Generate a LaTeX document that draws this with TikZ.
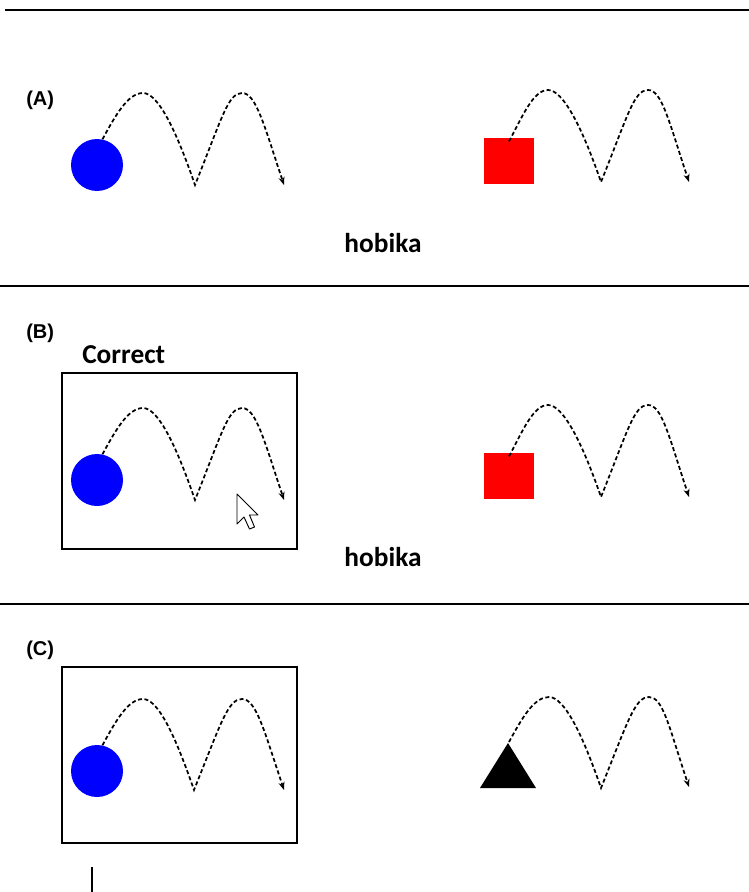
\documentclass[tikz,border=0pt]{standalone}
\usepackage{fontspec}
\setmainfont{Liberation Sans}
\newfontfamily\calibri{Carlito}
\usepackage{xcolor}
\usetikzlibrary{arrows.meta, positioning}
\definecolor{ballblue}{RGB}{0, 0, 255}
\definecolor{blockred}{RGB}{255, 0, 0}

\begin{document}
\begin{tikzpicture}[x=0.75pt, y=-0.75pt,
    divider/.style={line width=1.6pt},
    frame/.style={draw, line width=1.3pt, minimum width=176pt,
                  minimum height=132pt, inner sep=0pt},
    panel/.style={font=\bfseries\fontsize{15}{18}\selectfont, anchor=west, inner sep=0pt},
    word/.style={font=\calibri\bfseries\fontsize{20.5}{24}\selectfont, inner sep=0pt},
    ball/.style={circle, fill=ballblue, minimum size=39pt, inner sep=0pt},
    block/.style={rectangle, fill=blockred, minimum width=37pt,
                  minimum height=35pt, inner sep=0pt},
    hop/.style={dash pattern=on 3pt off 1.9pt, line width=1.3pt,
                -{Stealth[length=6pt, width=4.5pt]}},
    pointer/.style={fill=white, draw, line width=0.7pt, line join=round}
]

\useasboundingbox (0,0) rectangle (749,892);

%% Divider lines
\draw[divider] (5,10)  -- (749,10);
\draw[divider] (0,286) -- (749,286);
\draw[divider] (0,604) -- (749,604);

%% ── Panel (A) ──────────────────────────────────────────────────
\node[panel] (labA) at (26,100) {(A)};
\node[ball]  (ballA)  at (97,165)  {};
\node[block] (blockA) at (509,161) {};
\coordinate (endA1) at (284,185);
\coordinate (endA2) at (689,182);
\draw[hop] (ballA.78) .. controls +(13,-24) and +(-15,0) .. (143,93)
                      .. controls +(15,0) and +(-19,-55) .. (195,185)
                      .. controls +(27,-67) and +(-14,0) .. (242,93)
                      .. controls +(14,0) and +(-20,-60) .. (endA1);
\draw[hop] ([yshift=-3pt]blockA.north) .. controls +(13,-24) and +(-15,0) .. (548,90)
                      .. controls +(15,0) and +(-19,-55) .. (601,182)
                      .. controls +(27,-67) and +(-14,0) .. (648,90)
                      .. controls +(14,0) and +(-20,-60) .. (endA2);
\node[word] (wordA) at (383,243) {hobika};

%% ── Panel (B) ──────────────────────────────────────────────────
\node[panel] (labB) at (26,333) {(B)};
\node[word, anchor=base west] (correct) at (82,363) {Correct};
\node[frame] (frameB) at (179.5,461) {};
\node[ball]  (ballB)  at (97,480)  {};
\node[block] (blockB) at (509,476) {};
\coordinate (endB1) at (284,500);
\coordinate (endB2) at (689,497);
\draw[hop] (ballB.78) .. controls +(13,-24) and +(-15,0) .. (143,408)
                      .. controls +(15,0) and +(-19,-55) .. (195,500)
                      .. controls +(27,-67) and +(-14,0) .. (242,408)
                      .. controls +(14,0) and +(-20,-60) .. (endB1);
\draw[hop] ([yshift=-3pt]blockB.north) .. controls +(13,-24) and +(-15,0) .. (548,405)
                      .. controls +(15,0) and +(-19,-55) .. (601,497)
                      .. controls +(27,-67) and +(-14,0) .. (648,405)
                      .. controls +(14,0) and +(-20,-60) .. (endB2);
%% mouse pointer
\draw[pointer] (237,494) -- (237,524) -- (244,517) -- (249.5,529)
               -- (254.5,527) -- (249.5,515) -- (258,515) -- cycle;
\node[word] (wordB) at (383,557) {hobika};

%% ── Panel (C) ──────────────────────────────────────────────────
\node[panel] (labC) at (26,650) {(C)};
\node[frame] (frameC) at (179.5,755) {};
\node[ball] (ballC) at (97,771) {};
\fill (480,788) -- (508,743) -- (536,788) -- cycle;
\coordinate (apexC) at (509,742);
\coordinate (endC1) at (284,790);
\coordinate (endC2) at (689,787);
\draw[hop] (ballC.78) .. controls +(13,-24) and +(-15,0) .. (143,699)
                      .. controls +(15,0) and +(-19,-55) .. (194,790)
                      .. controls +(27,-67) and +(-14,0) .. (242,699)
                      .. controls +(14,0) and +(-20,-60) .. (endC1);
\draw[hop] (apexC) .. controls +(13,-24) and +(-15,0) .. (549,697)
                   .. controls +(15,0) and +(-19,-55) .. (601,788)
                   .. controls +(27,-67) and +(-14,0) .. (649,697)
                   .. controls +(14,0) and +(-20,-60) .. (endC2);
\draw[line width=2pt] (92,867) -- (92,892);

\end{tikzpicture}
\end{document}
